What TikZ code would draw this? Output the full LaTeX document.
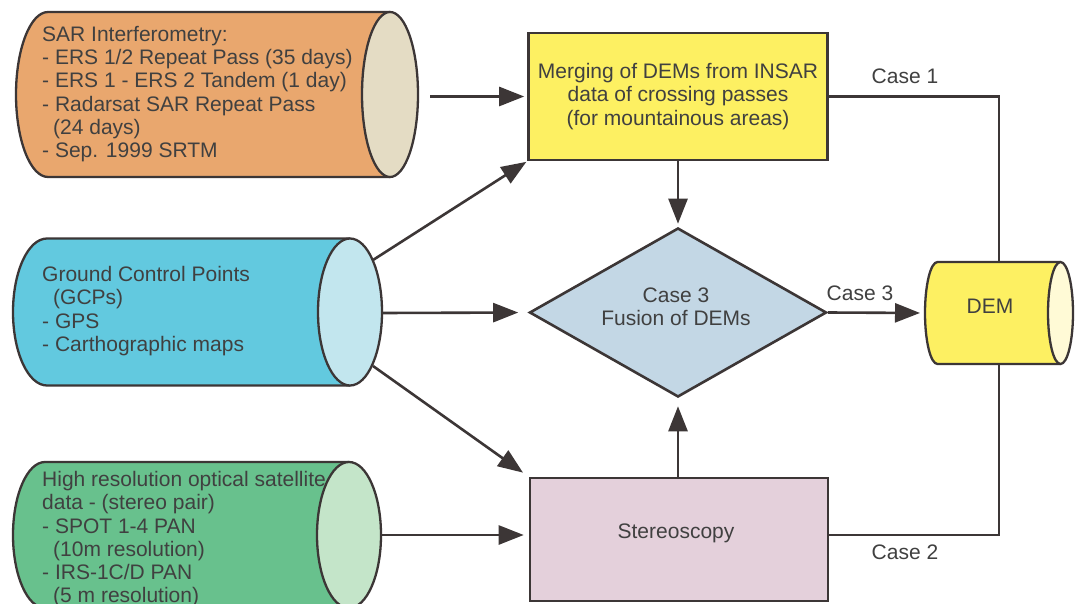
\documentclass[tikz,border=0pt]{standalone}
\usepackage{fontspec}
\setmainfont{Liberation Sans}
\usetikzlibrary{shapes.geometric,arrows.meta}
\definecolor{linec}{HTML}{3C3636}
\definecolor{txtc}{HTML}{404040}
\definecolor{orbody}{HTML}{E9A76E}
\definecolor{orend}{HTML}{E4DCC4}
\definecolor{blbody}{HTML}{62C9DF}
\definecolor{blend}{HTML}{C2E6EE}
\definecolor{grbody}{HTML}{68C18D}
\definecolor{grend}{HTML}{C4E5C9}
\definecolor{yel}{HTML}{FDF062}
\definecolor{yelend}{HTML}{FFFAD6}
\definecolor{dia}{HTML}{C3D7E5}
\definecolor{ster}{HTML}{E4D0DB}
\tikzset{
  txt/.style={font=\fontsize{21}{23.3}\selectfont, text=txtc, inner sep=0pt},
  conn/.style={draw=linec, line width=2.6pt},
  cyl/.style={draw=linec, line width=2.3pt},
  box/.style={txt, draw=linec, line width=2.6pt, align=center},
  arr/.style={conn, -{Triangle[length=25pt,width=19pt]}}
}
\begin{document}
\begin{tikzpicture}[x=1pt,y=1pt]
\useasboundingbox (0,0) rectangle (1083,-604);
\clip (0,0) rectangle (1083,-604);
\fill[white] (0,0) rectangle (1083,-604);

% SAR cylinder
\fill[orbody] (48,-12) -- (390,-12) -- (390,-177) -- (48,-177) arc[start angle=270,end angle=90,x radius=32,y radius=82.5] -- cycle;
\draw[cyl] (390,-12) -- (48,-12) arc[start angle=90,end angle=270,x radius=32,y radius=82.5] -- (390,-177);
\node[txt, anchor=north west, align=left] (sartxt) at (42,-26) {SAR Interferometry:\\- ERS 1/2 Repeat Pass (35 days)\\- ERS 1 - ERS 2 Tandem (1 day)\\- Radarsat SAR Repeat Pass\\\hspace*{11pt}(24 days)\\- Sep. 1999 SRTM};
\filldraw[cyl, fill=orend] (390,-94.5) ellipse[x radius=28, y radius=82.5];
\coordinate (sarout) at (418,-96.5);

% GCP cylinder
\fill[blbody] (47,-238.5) -- (350,-238.5) -- (350,-385.5) -- (47,-385.5) arc[start angle=270,end angle=90,x radius=34,y radius=73.5] -- cycle;
\draw[cyl] (350,-238.5) -- (47,-238.5) arc[start angle=90,end angle=270,x radius=34,y radius=73.5] -- (350,-385.5);
\node[txt, anchor=north west, align=left] (gcptxt) at (42,-266) {Ground Control Points\\\hspace*{11pt}(GCPs)\\- GPS\\- Carthographic maps};
\filldraw[cyl, fill=blend] (350,-312) ellipse[x radius=32, y radius=73.5];
\coordinate (gcpA) at (373,-260);
\coordinate (gcpB) at (382,-313);
\coordinate (gcpC) at (373,-366);

% optical cylinder
\fill[grbody] (45,-462) -- (349,-462) -- (349,-608) -- (45,-608) arc[start angle=270,end angle=90,x radius=32,y radius=73] -- cycle;
\draw[cyl] (349,-462) -- (45,-462) arc[start angle=90,end angle=270,x radius=32,y radius=73] -- (349,-608);
\node[txt, anchor=north west, align=left] (hrtxt) at (42,-471) {High resolution optical satellite\\data - (stereo pair)\\- SPOT 1-4 PAN\\\hspace*{11pt}(10m resolution)\\- IRS-1C/D PAN\\\hspace*{11pt}(5 m resolution)};
\filldraw[cyl, fill=grend] (349,-535) ellipse[x radius=32, y radius=73];
\coordinate (hrout) at (381,-535);

% DEM cylinder
\fill[yel] (937.5,-262) -- (1060.5,-262) -- (1060.5,-364) -- (937.5,-364) arc[start angle=270,end angle=90,x radius=12.5,y radius=51] -- cycle;
\draw[cyl] (1060.5,-262) -- (937.5,-262) arc[start angle=90,end angle=270,x radius=12.5,y radius=51] -- (1060.5,-364);
\filldraw[cyl, fill=yelend] (1060.5,-313) ellipse[x radius=12.5, y radius=51];
\node[inner sep=0pt, outer sep=0pt, minimum width=148pt, minimum height=102pt] (dem) at (999,-313) {};
\node[txt] (demtxt) at (990,-306) {DEM};

% boxes
\node[box, fill=yel, minimum width=299pt, minimum height=127pt] (merge) at (678,-96.5) {Merging of DEMs from INSAR\\data of crossing passes\\(for mountainous areas)};
\node[diamond, draw=linec, line width=2.6pt, fill=dia, minimum width=297pt, minimum height=169pt, inner sep=0pt] (fusion) at (678,-312.5) {};
\node[txt, align=center] (fusiontxt) at (676,-306.5) {Case 3\\Fusion of DEMs};
\node[box, fill=ster, minimum width=298pt, minimum height=123pt] (stereo) at (679,-539.5) {};
\node[txt] (stereotxt) at (676,-533) {Stereoscopy};

% connectors
\draw[arr, shorten <=12pt, shorten >=3pt] (sarout) -- (merge.west);
\draw[arr, shorten >=1pt] (gcpA) -- (merge.south west);
\draw[arr, shorten >=10pt] (gcpB) -- (fusion.west);
\draw[arr, shorten >=7pt] (gcpC) -- (stereo.north west);
\draw[arr, shorten >=5pt] (hrout) -- (stereo.west |- hrout);
\draw[arr, shorten >=3pt] (merge.south) -- (fusion.north);
\draw[arr, shorten >=8pt] (stereo.north -| fusion.south) -- (fusion.south);
\draw[arr, shorten >=5pt] (fusion.east) -- (dem.west);
\draw[conn] (merge.east) -| (dem.north);
\draw[conn] (stereo.east |- hrout) -| (dem.south);

% labels
\node[txt] (case1) at (905,-76) {Case 1};
\node[txt] (case2) at (905,-552) {Case 2};
\node[txt] (case3) at (860,-293) {Case 3};
\end{tikzpicture}
\end{document}
